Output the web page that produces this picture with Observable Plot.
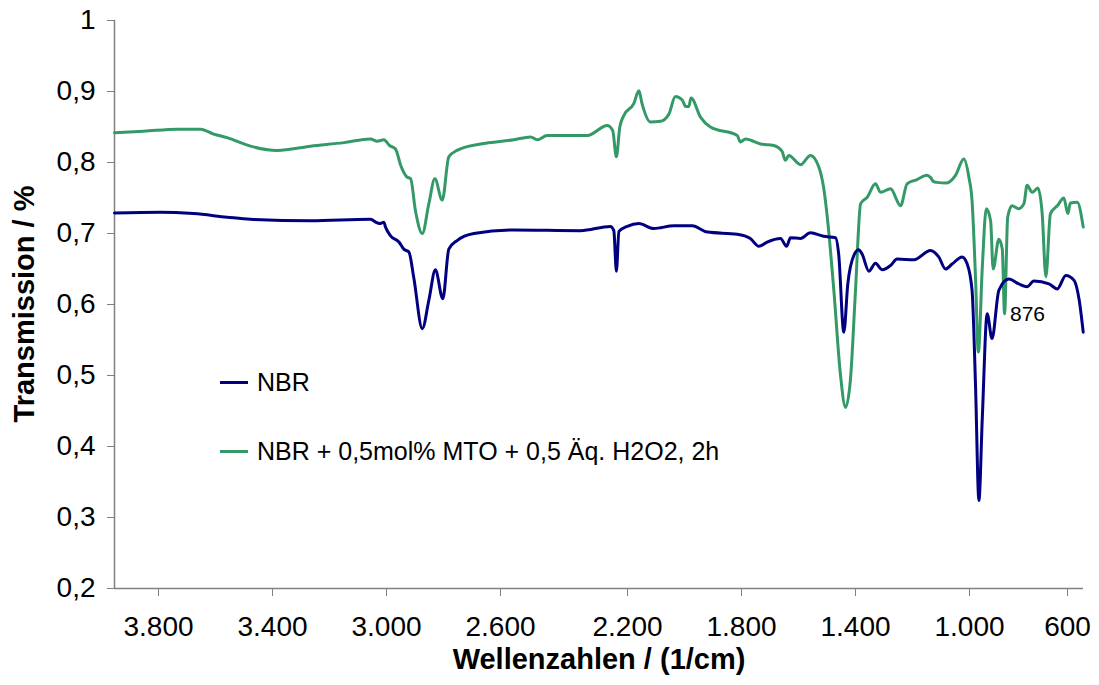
<!DOCTYPE html>
<html>
<head>
<meta charset="utf-8">
<script src="https://cdn.jsdelivr.net/npm/d3@7"></script>
<script src="https://cdn.jsdelivr.net/npm/@observablehq/plot@0.6"></script>
<style>
  body { margin: 0; background: #fff; font-family: "Liberation Sans", Arial, sans-serif; }
  #wrap { position: relative; width: 1099px; height: 685px; }
  #wrap svg g[aria-label="x-axis tick label"], #wrap svg g[aria-label="y-axis tick label"] { font-size: 28px; }
  .leg { position: absolute; left: 220px; display: flex; align-items: center; height: 30px; font-size: 25px; color: #000; white-space: nowrap; }
  .leg span.sw { display: inline-block; width: 28px; height: 3px; margin-right: 9px; }
  .ytitle { position: absolute; left: 24px; top: 304px; transform: translate(-50%, -50%) rotate(-90deg); font-size: 29px; font-weight: bold; white-space: nowrap; color: #000; }
</style>
</head>
<body>
<div id="wrap"></div>
<script>
// ---- data ----
const seriesNames = ["NBR", "NBR + 0,5mol% MTO + 0,5 Äq. H2O2, 2h"];
const seriesColors = ["#000080", "#339966"];

const nbrWn = [4000, 3839, 3722, 3605, 3523, 3312, 3102, 3078, 3067, 3055, 3049, 3032, 3002, 2985, 2967, 2950, 2920, 2897, 2874, 2848, 2827, 2798, 2739, 2599, 2365, 2260, 2248, 2239, 2230, 2201, 2160, 2108, 2037, 1973, 1920, 1815, 1769, 1739, 1710, 1663, 1642, 1628, 1593, 1558, 1512, 1470, 1459, 1441, 1427, 1406, 1389, 1377, 1353, 1330, 1306, 1277, 1254, 1195, 1137, 1108, 1084, 1061, 1026, 1008, 991, 979, 967, 955, 938, 921, 897, 862, 827, 798, 774, 721, 692, 662, 633, 615, 601];
const nbrT = [0.729, 0.730, 0.728, 0.723, 0.720, 0.718, 0.720, 0.715, 0.714, 0.716, 0.709, 0.697, 0.688, 0.678, 0.674, 0.638, 0.566, 0.606, 0.649, 0.608, 0.678, 0.690, 0.700, 0.705, 0.704, 0.710, 0.704, 0.647, 0.703, 0.710, 0.714, 0.707, 0.711, 0.711, 0.702, 0.699, 0.693, 0.682, 0.688, 0.693, 0.682, 0.694, 0.693, 0.701, 0.696, 0.694, 0.671, 0.561, 0.629, 0.669, 0.677, 0.671, 0.647, 0.658, 0.649, 0.655, 0.664, 0.663, 0.676, 0.667, 0.650, 0.657, 0.667, 0.657, 0.620, 0.488, 0.324, 0.441, 0.587, 0.552, 0.620, 0.636, 0.629, 0.625, 0.633, 0.629, 0.622, 0.641, 0.634, 0.606, 0.561];

const mtoWn = [4000, 3897, 3780, 3698, 3652, 3605, 3523, 3429, 3312, 3195, 3102, 3078, 3055, 3035, 3014, 2995, 2975, 2961, 2944, 2920, 2897, 2876, 2850, 2827, 2798, 2716, 2599, 2540, 2517, 2482, 2341, 2271, 2252, 2239, 2227, 2213, 2178, 2160, 2149, 2119, 2084, 2055, 2032, 2008, 1996, 1985, 1977, 1944, 1909, 1815, 1804, 1786, 1733, 1687, 1658, 1646, 1634, 1593, 1558, 1529, 1512, 1499, 1476, 1453, 1435, 1418, 1400, 1382, 1359, 1330, 1312, 1277, 1242, 1219, 1184, 1149, 1137, 1126, 1114, 1084, 1049, 1020, 1002, 991, 979, 969, 955, 941, 926, 917, 897, 885, 877, 866, 851, 827, 809, 798, 780, 760, 745, 732, 716, 692, 669, 655, 646, 622, 601];
const mtoT = [0.842, 0.844, 0.847, 0.847, 0.840, 0.835, 0.823, 0.817, 0.823, 0.828, 0.833, 0.830, 0.832, 0.824, 0.819, 0.795, 0.780, 0.777, 0.732, 0.700, 0.742, 0.777, 0.747, 0.808, 0.817, 0.826, 0.832, 0.836, 0.832, 0.838, 0.838, 0.852, 0.845, 0.808, 0.850, 0.866, 0.883, 0.901, 0.883, 0.857, 0.858, 0.868, 0.893, 0.888, 0.879, 0.879, 0.891, 0.864, 0.850, 0.838, 0.829, 0.833, 0.826, 0.824, 0.816, 0.803, 0.810, 0.797, 0.810, 0.794, 0.765, 0.723, 0.620, 0.502, 0.455, 0.493, 0.620, 0.742, 0.751, 0.770, 0.758, 0.763, 0.739, 0.770, 0.776, 0.782, 0.779, 0.773, 0.772, 0.771, 0.782, 0.805, 0.779, 0.746, 0.639, 0.533, 0.653, 0.735, 0.718, 0.650, 0.692, 0.678, 0.587, 0.723, 0.739, 0.735, 0.742, 0.768, 0.758, 0.764, 0.728, 0.639, 0.728, 0.739, 0.750, 0.728, 0.743, 0.744, 0.709];

const xTicksLeft = [3800, 3400, 3000, 2600];
const xTicksMid = [2200, 1800, 1400, 1000];
const xTicksRight = [600];
const yTicks = [0.2, 0.3, 0.4, 0.5, 0.6, 0.7, 0.8, 0.9, 1];
const xDomain = [4000, 600];
const yDomain = [0.2, 1];
const xTitle = "Wellenzahlen / (1/cm)";
const yTitle = "Transmission / %";
const annotations = [{wn: 858, t: 0.586, label: "876"}];

// ---- build ----
const de = d3.formatLocale({decimal: ",", thousands: ".", grouping: [3], currency: ["", " €"]});
const fx = de.format(",");
const fy = de.format("~g");

const nbr = nbrWn.map((w, i) => ({wn: w, t: nbrT[i]}));
const mto = mtoWn.map((w, i) => ({wn: w, t: mtoT[i]}));

const axisGray = "#808080";
const xAxisOpts = {tickFormat: fx, tickSize: 8, tickPadding: 20, fontSize: 28, stroke: axisGray, fill: "#000", label: null};

const chart = Plot.plot({
  width: 1099,
  height: 685,
  marginLeft: 114,
  marginRight: 16,
  marginTop: 20,
  marginBottom: 97,
  style: {fontFamily: "'Liberation Sans', Arial, sans-serif", fontSize: "28px", color: "#000", background: "#fff"},
  x: {domain: xDomain, label: null},
  y: {domain: yDomain, label: null},
  marks: [
    Plot.axisX(xTicksLeft, {...xAxisOpts, dx: -13}),
    Plot.axisX(xTicksMid, {...xAxisOpts}),
    Plot.axisX(xTicksRight, {...xAxisOpts, dx: -16}),
    Plot.axisY(yTicks, {tickFormat: fy, tickSize: 7, tickPadding: 12, fontSize: 28, stroke: axisGray, fill: "#000", label: null}),
    Plot.ruleY([yDomain[0]], {stroke: axisGray, strokeWidth: 1.5}),
    Plot.ruleX([xDomain[0]], {stroke: axisGray, strokeWidth: 1.5}),
    Plot.line(mto, {x: "wn", y: "t", stroke: seriesColors[1], strokeWidth: 3, curve: "monotone-x"}),
    Plot.line(nbr, {x: "wn", y: "t", stroke: seriesColors[0], strokeWidth: 3, curve: "monotone-x"}),
    Plot.text(annotations, {x: "wn", y: "t", text: "label", textAnchor: "start", fontSize: 21, fill: "#000"}),
    Plot.text([xTitle], {text: d => d, frameAnchor: "bottom", dy: 80, fontSize: 29, fontWeight: "bold", fill: "#000"})
  ]
});

const wrap = document.getElementById("wrap");
wrap.appendChild(chart);

// y-axis title
const yt = document.createElement("div");
yt.className = "ytitle";
yt.textContent = yTitle;
wrap.appendChild(yt);

// legend (inside plot area, as in the reference)
const legendTops = [367, 436];
seriesNames.forEach((name, i) => {
  const d = document.createElement("div");
  d.className = "leg";
  d.style.top = legendTops[i] + "px";
  const sw = document.createElement("span");
  sw.className = "sw";
  sw.style.background = seriesColors[i];
  d.appendChild(sw);
  d.appendChild(document.createTextNode(name));
  wrap.appendChild(d);
});
</script>
</body>
</html>
